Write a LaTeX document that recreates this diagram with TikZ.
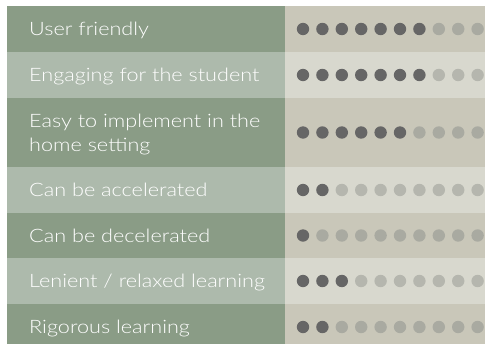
\documentclass[tikz,border=0pt]{standalone}
\usepackage{fontspec}
\setmainfont{Lato}[UprightFont=* Light, FakeStretch=1.17]
\definecolor{gdark}{HTML}{8A9C86}
\definecolor{glight}{HTML}{ADBAAC}
\definecolor{pdark}{HTML}{C9C7B9}
\definecolor{plight}{HTML}{D8D8CE}
\definecolor{dotfull}{HTML}{666666}
\definecolor{dotemptyA}{HTML}{A9AAA1}
\definecolor{dotemptyB}{HTML}{B5B6AE}
\tikzset{
  cell/.style={draw=none, inner sep=0pt, outer sep=0pt, anchor=north west},
  lbl/.style={anchor=base west, inner sep=0pt, text=white, font=\fontsize{18.5}{24.3}\selectfont, align=left},
}
\begin{document}
\begin{tikzpicture}[x=1pt,y=-1pt]
\useasboundingbox (0,0) rectangle (485,343);
\clip (0,0) rectangle (485,343);
\foreach \i/\t/\b/\s/\n in {1/6/52/A/7, 2/52/98/B/7, 3/98/167/A/6, 4/167/213/B/2, 5/213/258/A/1, 6/258/304/B/3, 7/304/350/A/2}{
  \pgfmathsetmacro{\h}{\b-\t}
  \pgfmathsetmacro{\c}{(\t+\b)/2}
  \if\s A
    \node[cell, fill=gdark, minimum width=278pt, minimum height=\h pt] (l\i) at (7,\t) {};
    \node[cell, fill=pdark, minimum width=200pt, minimum height=\h pt] (r\i) at (285,\t) {};
    \foreach \k in {1,...,10}{
      \ifnum\k>\n \fill[dotemptyA] ({303+(\k-1)*19.4},\c) circle (6.2);
      \else \fill[dotfull] ({303+(\k-1)*19.4},\c) circle (6.2); \fi
    }
  \else
    \node[cell, fill=glight, minimum width=278pt, minimum height=\h pt] (l\i) at (7,\t) {};
    \node[cell, fill=plight, minimum width=200pt, minimum height=\h pt] (r\i) at (285,\t) {};
    \foreach \k in {1,...,10}{
      \ifnum\k>\n \fill[dotemptyB] ({303+(\k-1)*19.4},\c) circle (6.2);
      \else \fill[dotfull] ({303+(\k-1)*19.4},\c) circle (6.2); \fi
    }
  \fi
}
\node[lbl] (t1) at (29,35.5) {User friendly};
\node[lbl] (t2) at (29,81.5) {Engaging for the student};
\node[lbl] (t3) at (29,151.6) {Easy to implement in the\\home setting};
\node[lbl] (t4) at (29,196.5) {Can be accelerated};
\node[lbl] (t5) at (29,242) {Can be decelerated};
\node[lbl] (t6) at (29,287.5) {Lenient / relaxed learning};
\node[lbl] (t7) at (29,333) {Rigorous learning};
\end{tikzpicture}
\end{document}
